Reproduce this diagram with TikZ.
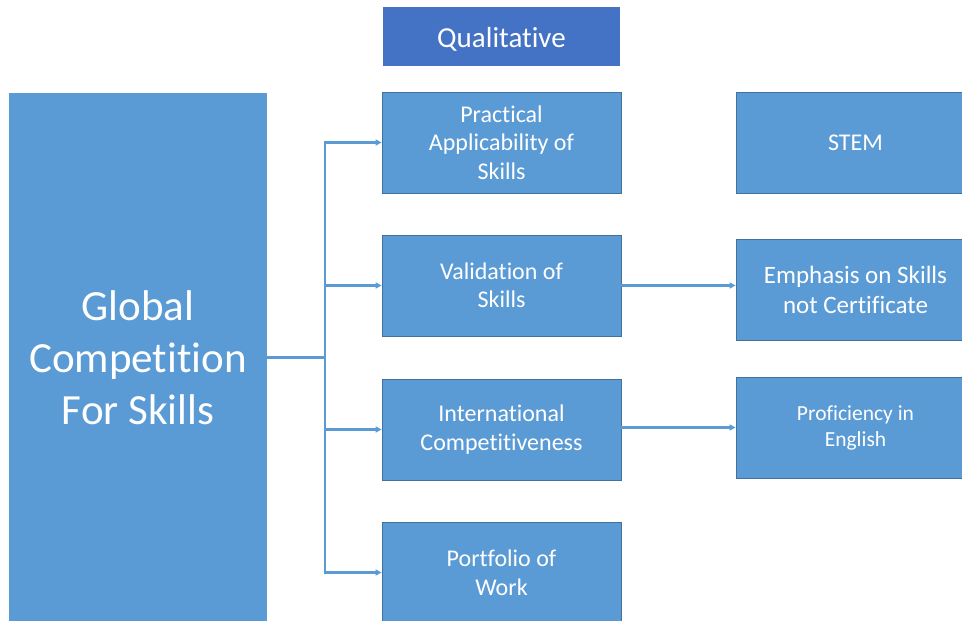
\documentclass[tikz,border=0pt]{standalone}
\usepackage{fontspec}
\setmainfont{Carlito}[Ligatures={NoCommon,NoContextual}]
\usetikzlibrary{arrows.meta,positioning}
\definecolor{boxblue}{HTML}{5B9BD5}
\definecolor{boxline}{HTML}{41719C}
\definecolor{headblue}{HTML}{4472C4}
\tikzset{
  itembox/.style={fill=boxblue, draw=boxline, line width=0.8pt, text=white, align=center,
    minimum width=239pt, minimum height=101pt, inner sep=0pt,
    font=\fontsize{24}{28.5}\selectfont},
  link/.style={draw=boxblue, line width=2.4pt, -{Triangle[length=6pt,width=6pt]}},
}
\begin{document}
\begin{tikzpicture}[x=1pt,y=-1pt]
  \useasboundingbox (0,0) rectangle (962,621);
  % Heading
  \node[fill=headblue, text=white, minimum width=237pt, minimum height=59pt, inner sep=0pt,
    font=\fontsize{29}{32}\selectfont] (qual) at (501.5,36.5) {\raisebox{-3pt}[\height][\depth]{Qualitative}};
  % Root box
  \node[fill=boxblue, text=white, align=center, minimum width=258pt, minimum height=530pt,
    inner sep=0pt, font=\fontsize{43}{52}\selectfont] (root) at (138,358) {Global\\Competition\\For Skills};
  % Middle column
  \node[itembox] (practical) at (501.5,142.5) {Practical\\Applicability of\\Skills};
  \node[itembox] (validation) at (501.5,285.5) {Validation of\\Skills};
  \node[itembox] (international) at (501.5,429.5) {International\\Competitiveness};
  \node[itembox] (portfolio) at (501.5,572.5) {Portfolio of\\Work};
  % Right column
  \node[itembox] (stem) at (855.5,142.5) {STEM};
  \node[itembox, font=\fontsize{25}{30}\selectfont] (emphasis) at (855.5,289.5) {Emphasis on Skills\\not Certificate};
  \node[itembox, font=\fontsize{21.5}{26}\selectfont] (proficiency) at (855.5,427.5) {Proficiency in\\English};
  % Connectors
  \coordinate (fork) at (325,357.5);
  \draw[draw=boxblue, line width=2.4pt] (root.east |- fork) -- (fork);
  \foreach \n in {practical,validation,international,portfolio}
    \draw[link] (fork) |- (\n.west);
  \draw[link] (validation.east) -- (validation.east -| emphasis.west);
  \draw[link] (international.east |- proficiency.west) -- (proficiency.west);
\end{tikzpicture}
\end{document}
